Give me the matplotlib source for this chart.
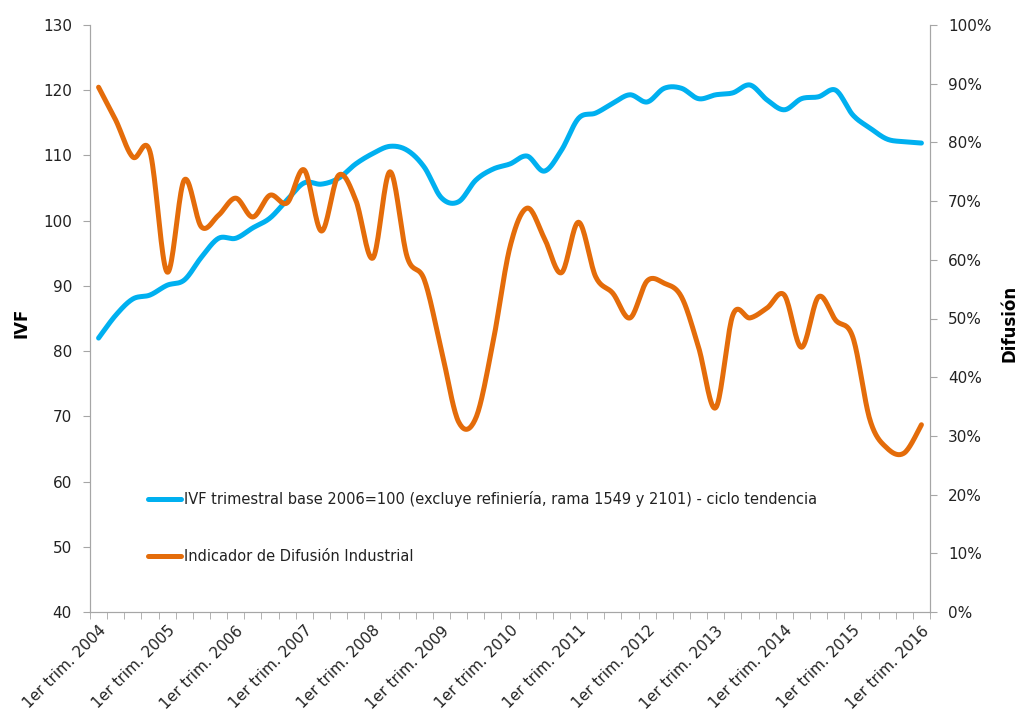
import numpy as np
import matplotlib
matplotlib.use("Agg")
import matplotlib.pyplot as plt
from matplotlib.ticker import FixedLocator, PercentFormatter

# ---- data ----
years = list(range(2004, 2017))
quarters = [f"{q} trim. {y}" for y in range(2004, 2017) for q in ["1er", "2do", "3er", "4to"]][:49]
tick_labels = [f"1er trim. {y}" for y in years]

ivf = [82.0, 85.5, 88.0, 88.6, 90.1, 90.9, 94.4, 97.3, 97.3, 98.9, 100.4, 103.2,
       105.8, 105.6, 106.5, 108.7, 110.3, 111.4, 110.8, 108.2, 103.5, 102.9, 106.2,
       107.9, 108.7, 109.9, 107.6, 110.8, 115.7, 116.5, 118.0, 119.3, 118.2, 120.3,
       120.3, 118.7, 119.3, 119.6, 120.8, 118.5, 117.0, 118.7, 119.0, 120.0, 116.2,
       114.2, 112.5, 112.1, 111.9]

difusion = [89.4, 83.8, 77.5, 78.4, 57.9, 73.6, 65.6, 67.6, 70.5, 67.3, 71.0, 69.7,
            75.3, 64.9, 74.4, 70.2, 60.3, 75.0, 60.5, 56.6, 44.6, 32.4, 33.0, 45.8,
            62.2, 68.8, 63.7, 57.8, 66.4, 57.1, 54.3, 50.1, 56.4, 56.0, 53.7, 45.1,
            34.8, 50.6, 50.1, 51.8, 54.0, 45.1, 53.7, 49.7, 46.8, 32.7, 27.9, 27.1,
            31.9]

labels = ["IVF trimestral base 2006=100 (excluye refiniería, rama 1549 y 2101) - ciclo tendencia",
          "Indicador de Difusión Industrial"]
colors = ["#00B0F0", "#E46C0A"]


def smooth(xs, ys, n=20):
    """Catmull-Rom style smoothing (like Excel smoothed lines)."""
    xs = np.asarray(xs, float)
    ys = np.asarray(ys, float)
    px = np.concatenate([[xs[0]], xs, [xs[-1]]])
    py = np.concatenate([[ys[0]], ys, [ys[-1]]])
    ox, oy = [], []
    t = np.linspace(0, 1, n, endpoint=False)
    for i in range(1, len(px) - 2):
        p0x, p1x, p2x, p3x = px[i - 1], px[i], px[i + 1], px[i + 2]
        p0y, p1y, p2y, p3y = py[i - 1], py[i], py[i + 1], py[i + 2]
        c1x, c1y = p1x + (p2x - p0x) / 6, p1y + (p2y - p0y) / 6
        c2x, c2y = p2x - (p3x - p1x) / 6, p2y - (p3y - p1y) / 6
        bx = (1 - t) ** 3 * p1x + 3 * (1 - t) ** 2 * t * c1x + 3 * (1 - t) * t ** 2 * c2x + t ** 3 * p2x
        by = (1 - t) ** 3 * p1y + 3 * (1 - t) ** 2 * t * c1y + 3 * (1 - t) * t ** 2 * c2y + t ** 3 * p2y
        ox.extend(bx)
        oy.extend(by)
    ox.append(xs[-1])
    oy.append(ys[-1])
    return np.array(ox), np.array(oy)


plt.rcParams['font.family'] = ['DejaVu Sans']
text_color = "#222222"
spine_color = "#A6A6A6"

fig = plt.figure(figsize=(10.2, 7.24), dpi=100)
ax = fig.add_axes([90 / 1020, 1 - 612 / 724, 840 / 1020, 587 / 724])
ax2 = ax.twinx()

x = np.arange(len(quarters))
sx, sy = smooth(x, ivf)
l1, = ax.plot(sx, sy, color=colors[0], lw=3.6, solid_capstyle='round', label=labels[0])
sx2, sy2 = smooth(x, difusion)
l2, = ax2.plot(sx2, sy2, color=colors[1], lw=3.6, solid_capstyle='round', label=labels[1])

ax.set_xlim(-0.5, len(quarters) - 0.5)
ax.set_ylim(40, 130)
ax.set_yticks(np.arange(40, 131, 10))
ax2.set_ylim(0, 100)
ax2.set_yticks(np.arange(0, 101, 10))
ax2.yaxis.set_major_formatter(PercentFormatter(decimals=0))

ax.set_xticks(x[::4])
ax.set_xticklabels(tick_labels, rotation=45, ha='right', rotation_mode='anchor',
                   fontsize=11, color=text_color)
ax.xaxis.set_minor_locator(FixedLocator(np.arange(-0.5, len(quarters), 1)))
ax.tick_params(axis='x', which='major', length=0, pad=8)
ax.tick_params(axis='x', which='minor', length=5, color=spine_color, direction='out')

for a in (ax, ax2):
    for s in a.spines.values():
        s.set_color(spine_color)
    a.spines['top'].set_visible(False)
ax.tick_params(axis='y', length=5, color=spine_color, labelsize=11, labelcolor=text_color, pad=8)
ax2.tick_params(axis='y', length=5, color=spine_color, labelsize=11, labelcolor=text_color, pad=8)

fig.text(22 / 1020, 1 - 323 / 724, "IVF", rotation=90, fontsize=12, fontweight='bold',
         va='center', ha='center', color='black')
fig.text(1010 / 1020, 1 - 323 / 724, "Difusión", rotation=90, fontsize=12, fontweight='bold',
         va='center', ha='center', color='black')

leg = ax2.legend(handles=[l1, l2], loc='center left', bbox_to_anchor=(0.062, 0.144),
                 frameon=False, fontsize=10.5, labelspacing=2.9, handlelength=2.3,
                 handletextpad=0.15, borderaxespad=0)
for t in leg.get_texts():
    t.set_color(text_color)

fig.savefig("out.png", dpi=100)
